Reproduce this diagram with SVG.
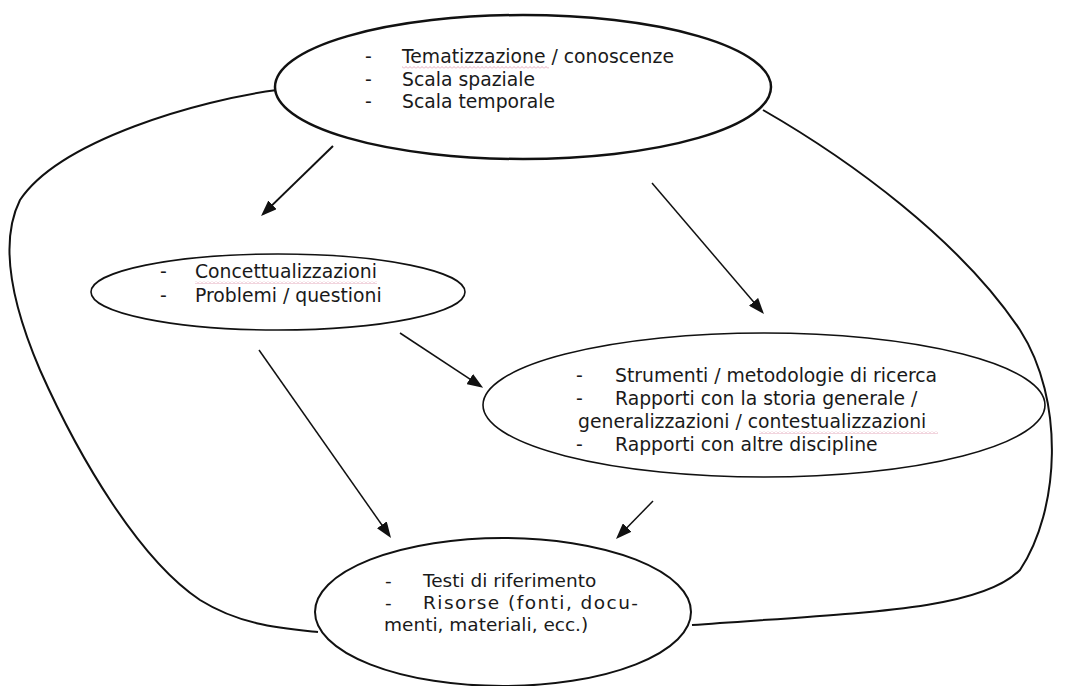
<svg xmlns="http://www.w3.org/2000/svg" width="1067" height="686" viewBox="0 0 1067 686">
<style>
  .node { fill: #fff; stroke: #111; stroke-width: 2; }
  .thin { stroke-width: 1.6; }
  .t { font-family: "DejaVu Sans", Verdana, sans-serif; font-size: 18.8px; fill: #1a1a1a; }
  .s { font-size: 18.5px; }
  .conn { fill: none; stroke: #111; stroke-width: 1.5; }
  .curve { fill: none; stroke: #111; stroke-width: 2; }
  .wavy { fill: url(#wavy); opacity: 0.8; }
</style>
<defs>
  <marker id="arrow" viewBox="0 0 16 12" refX="13" refY="6" markerWidth="16" markerHeight="12" markerUnits="userSpaceOnUse" orient="auto">
    <path d="M0,0 L16,6 L0,12 z" fill="#111"/>
  </marker>
  <pattern id="wavy" width="4" height="3" patternUnits="userSpaceOnUse">
    <path d="M0,2.5 L2,0.5 L4,2.5" fill="none" stroke="#d06a8a" stroke-width="0.7"/>
  </pattern>
</defs>
<rect width="1067" height="686" fill="#fff"/>

<g id="connectors">
  <path class="curve" d="M 277 90 C 200 100, 60 140, 20 200 C 0 240, 10 300, 40 370 C 80 460, 140 560, 200 600 C 240 625, 280 628, 318 632"/>
  <path class="curve" d="M 763 110 C 850 160, 960 240, 1020 330 C 1065 400, 1060 510, 1020 570 C 980 610, 870 612, 692 625"/>
  <line class="conn" style="stroke-width:2" x1="333" y1="146" x2="263.2" y2="213.9" marker-end="url(#arrow)"/>
  <line class="conn" x1="652" y1="183" x2="762" y2="311.7" marker-end="url(#arrow)"/>
  <line class="conn" x1="400" y1="333" x2="480.6" y2="386.2" marker-end="url(#arrow)"/>
  <line class="conn" x1="259" y1="350" x2="389.3" y2="535.5" marker-end="url(#arrow)"/>
  <line class="conn" x1="653" y1="501" x2="618.1" y2="536.8" marker-end="url(#arrow)"/>
</g>

<g id="node-top">
  <ellipse class="node" style="stroke-width:2.5" cx="523" cy="87" rx="248" ry="72"/>
  <text class="t" x="365" y="63">-</text>
  <text class="t" x="402" y="63">Tematizzazione / conoscenze</text>
  <rect class="wavy" x="402" y="66" width="147" height="3"/>
  <text class="t" x="365" y="86">-</text>
  <text class="t" x="402" y="86">Scala spaziale</text>
  <text class="t" x="365" y="108">-</text>
  <text class="t" x="402" y="108">Scala temporale</text>
</g>

<g id="node-left">
  <ellipse class="node thin" cx="278" cy="292" rx="187" ry="38"/>
  <text class="t" x="160" y="278">-</text>
  <text class="t" x="195" y="278">Concettualizzazioni</text>
  <rect class="wavy" x="195" y="281" width="182" height="3"/>
  <text class="t" x="160" y="302">-</text>
  <text class="t" x="195" y="302">Problemi / questioni</text>
</g>

<g id="node-right">
  <ellipse class="node thin" cx="764" cy="405" rx="281" ry="72"/>
  <text class="t" x="576" y="382">-</text>
  <text class="t" x="615" y="382">Strumenti / metodologie di ricerca</text>
  <text class="t" x="576" y="405">-</text>
  <text class="t" x="615" y="405">Rapporti con la storia generale /</text>
  <text class="t" x="578" y="428">generalizzazioni / contestualizzazioni</text>
  <rect class="wavy" x="759" y="431" width="179" height="3"/>
  <text class="t" x="576" y="451">-</text>
  <text class="t" x="615" y="451">Rapporti con altre discipline</text>
</g>

<g id="node-bottom">
  <ellipse class="node" cx="503" cy="612" rx="188" ry="74"/>
  <text class="t s" x="385" y="587">-</text>
  <text class="t s" x="423" y="587">Testi di riferimento</text>
  <text class="t s" x="385" y="609">-</text>
  <text class="t s" x="423" y="609" textLength="215" lengthAdjust="spacing">Risorse (fonti, docu-</text>
  <text class="t s" x="384" y="631">menti, materiali, ecc.)</text>
</g>
</svg>
